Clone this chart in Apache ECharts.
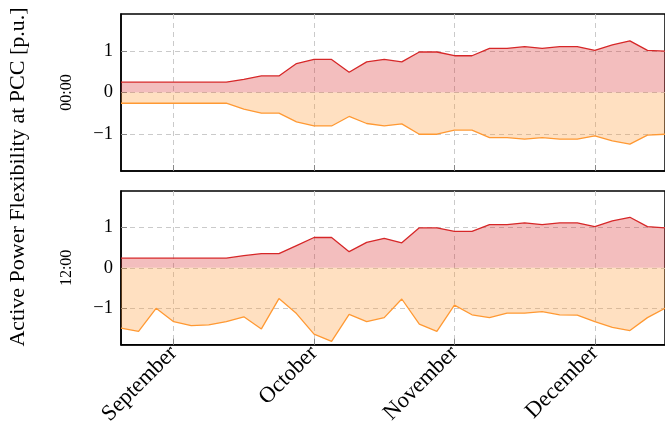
<!DOCTYPE html>
<html><head><meta charset="utf-8">
<script src="https://cdn.jsdelivr.net/npm/echarts@6/dist/echarts.min.js"></script>
<style>html,body{margin:0;padding:0;background:#fff}#c{width:665px;height:428px}</style>
</head><body><div id="c"></div>
<script>
const categories = ['Aug 20','Aug 24','Aug 28',
 'Sep 01','Sep 05','Sep 09','Sep 13','Sep 17','Sep 21','Sep 25','Sep 29',
 'Oct 01','Oct 05','Oct 09','Oct 13','Oct 17','Oct 21','Oct 25','Oct 29',
 'Nov 01','Nov 05','Nov 09','Nov 13','Nov 17','Nov 21','Nov 25','Nov 29',
 'Dec 01','Dec 05','Dec 09','Dec 13','Dec 17'];
const monthNames = {Sep:'September', Oct:'October', Nov:'November', Dec:'December'};
const yTicks = [-1, 0, 1];
const panelNames = ['00:00', '12:00'];
const yTitle = 'Active Power Flexibility at PCC [p.u.]';

const up0000 = [0.25,0.25,0.25,0.25,0.25,0.25,0.25,0.32,0.40,0.40,0.70,0.80,0.80,0.49,0.74,0.80,0.74,0.98,0.98,0.89,0.89,1.07,1.07,1.11,1.07,1.11,1.11,1.02,1.15,1.25,1.02,1.00];
const dn0000 = [-0.26,-0.26,-0.26,-0.26,-0.26,-0.26,-0.26,-0.40,-0.50,-0.50,-0.71,-0.81,-0.81,-0.58,-0.75,-0.81,-0.76,-1.01,-1.01,-0.91,-0.91,-1.09,-1.09,-1.13,-1.09,-1.13,-1.13,-1.05,-1.17,-1.25,-1.03,-1.01];
const up1200 = [0.24,0.24,0.24,0.24,0.24,0.24,0.24,0.30,0.35,0.35,0.55,0.75,0.75,0.40,0.63,0.73,0.62,0.99,0.99,0.90,0.90,1.07,1.07,1.11,1.07,1.11,1.11,1.02,1.16,1.25,1.02,0.99];
const dn1200 = [-1.49,-1.57,-1.00,-1.33,-1.43,-1.41,-1.33,-1.21,-1.51,-0.76,-1.13,-1.64,-1.82,-1.15,-1.33,-1.23,-0.77,-1.39,-1.57,-0.92,-1.16,-1.23,-1.12,-1.12,-1.08,-1.16,-1.17,-1.33,-1.47,-1.55,-1.23,-1.00];

const FONT = 'Liberation Serif';
const RED = '#d62728', ORANGE = '#ff9933';
const isMonth = (i, v) => /01$/.test(categories[i]);
const grids = [
  {left:121, top:14, width:549, height:157, show:true, borderColor:'#000', borderWidth:1.5},
  {left:121, top:191, width:549, height:157, show:true, borderColor:'#000', borderWidth:1.5}
];
const splitStyle = {show:true, lineStyle:{color:'#c4c4c4', type:[5,4], width:0.9}};
const xAxes = [0,1].map(k => ({
  type:'category', gridIndex:k, data:categories, boundaryGap:false,
  axisLine:{show:true, onZero:false, lineStyle:{color:'#000', width:1.5}},
  axisTick:{show:true, inside:true, length:6, interval:isMonth, lineStyle:{color:'#888'}},
  splitLine:Object.assign({interval:isMonth}, splitStyle),
  axisLabel:{show:k===1, interval:isMonth, rotate:45, margin:5, fontFamily:FONT, fontSize:22.5, color:'#000',
    formatter:v => monthNames[v.slice(0,3)] || ''}
}));
const yAxes = [0,1].map(k => ({
  type:'value', gridIndex:k, min:-1.9, max:1.9,
  name:panelNames[k], nameLocation:'middle', nameRotate:90, nameGap:46,
  nameTextStyle:{fontFamily:FONT, fontSize:16, color:'#000'},
  axisLine:{show:true, lineStyle:{color:'#000', width:1.5}},
  axisTick:{show:true, inside:true, length:6, customValues:yTicks, lineStyle:{color:'#888'}},
  splitLine:splitStyle,
  axisLabel:{customValues:yTicks, margin:8, fontFamily:FONT, fontSize:18.5, color:'#000',
    formatter:v => v < 0 ? '\u2212' + Math.abs(v) : String(v)}
}));
function ser(data, k, color){
  return {type:'line', xAxisIndex:k, yAxisIndex:k, data:data, symbol:'none',
    lineStyle:{color:color, width:1.3}, itemStyle:{color:color},
    areaStyle:{color:color, opacity:0.3, origin:0}, z:3};
}
const chart = echarts.init(document.getElementById('c'), null, {renderer:'canvas'});
chart.setOption({
  animation:false,
  grid:grids, xAxis:xAxes, yAxis:yAxes,
  series:[ser(up0000,0,RED), ser(dn0000,0,ORANGE), ser(up1200,1,RED), ser(dn1200,1,ORANGE)],
  graphic:[{type:'text', x:18, y:177, rotation:Math.PI/2,
    style:{text:yTitle, font:'22px "Liberation Serif"', fill:'#000', textAlign:'center', textVerticalAlign:'middle'}}]
});
</script></body></html>
